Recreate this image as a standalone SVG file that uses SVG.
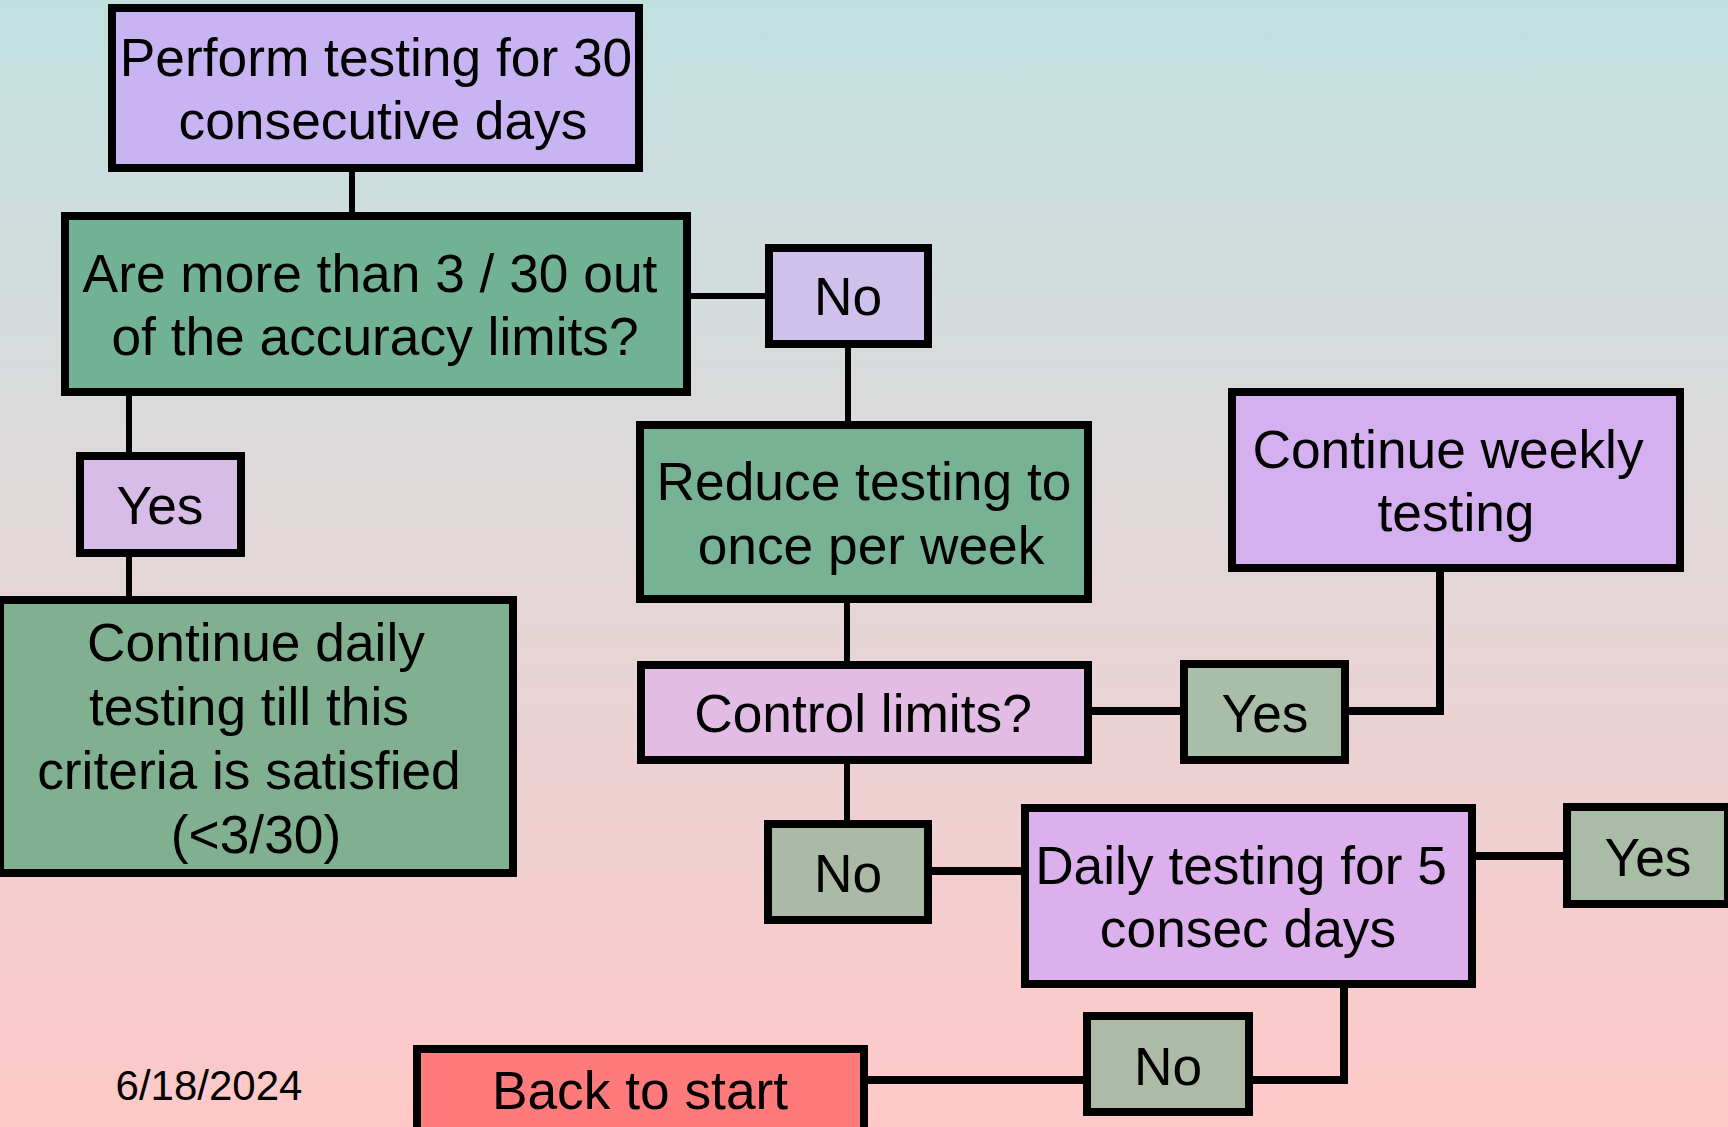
<svg xmlns="http://www.w3.org/2000/svg" width="1728" height="1127" viewBox="0 0 1728 1127">
<defs>
<linearGradient id="bg" x1="0" y1="0" x2="0" y2="1">
<stop offset="0" stop-color="#C0E0E0"/>
<stop offset="0.38" stop-color="#DCDADB"/>
<stop offset="1" stop-color="#FFC8C8"/>
</linearGradient>
</defs>
<style>
.box{stroke:#000;stroke-width:8}
.t{font-family:"Liberation Sans",Arial,sans-serif;font-size:53.3px;fill:#000;text-anchor:middle}
.c{fill:none;stroke:#000;stroke-width:6}
.c8{fill:none;stroke:#000;stroke-width:8}
</style>
<rect x="0" y="0" width="1728" height="1127" fill="url(#bg)"/>
<g id="connectors">
<line class="c" x1="352" y1="170" x2="352" y2="214"/>
<line class="c" x1="689" y1="296" x2="767" y2="296"/>
<line class="c" x1="848" y1="346" x2="848" y2="423"/>
<line class="c" x1="129" y1="394" x2="129" y2="454"/>
<line class="c" x1="129" y1="555" x2="129" y2="598"/>
<line class="c" x1="847" y1="601" x2="847" y2="663"/>
<line class="c8" x1="1090" y1="711" x2="1182" y2="711"/>
<polyline class="c8" points="1347,711 1440,711 1440,570"/>
<line class="c" x1="847" y1="762" x2="847" y2="822"/>
<line class="c8" x1="930" y1="871" x2="1023" y2="871"/>
<line class="c8" x1="1474" y1="856" x2="1565" y2="856"/>
<polyline class="c8" points="1344,986 1344,1080 1251,1080"/>
<line class="c8" x1="1085" y1="1080" x2="866" y2="1080"/>
</g>
<g id="perform">
<rect class="box" x="112" y="8" width="527" height="160" fill="#C8B4F2"/>
<text class="t" x="376" y="76">Perform testing for 30</text>
<text class="t" x="383" y="139">consecutive days</text>
</g>
<g id="accuracy">
<rect class="box" x="65" y="216" width="622" height="176" fill="#72B294"/>
<text class="t" x="370" y="292">Are more than 3 / 30 out</text>
<text class="t" x="375" y="355">of the accuracy limits?</text>
</g>
<g id="no-top">
<rect class="box" x="769" y="248" width="159" height="96" fill="#D0C0EC"/>
<text class="t" x="848" y="315">No</text>
</g>
<g id="reduce">
<rect class="box" x="640" y="425" width="448" height="174" fill="#78B294"/>
<text class="t" x="864" y="500">Reduce testing to</text>
<text class="t" x="871" y="564">once per week</text>
</g>
<g id="weekly">
<rect class="box" x="1232" y="392" width="448" height="176" fill="#D4B0F0"/>
<text class="t" x="1448" y="468">Continue weekly</text>
<text class="t" x="1456" y="531">testing</text>
</g>
<g id="yes-left">
<rect class="box" x="80" y="456" width="161" height="97" fill="#D8BCE8"/>
<text class="t" x="160" y="524">Yes</text>
</g>
<g id="daily-continue">
<rect class="box" x="0" y="600" width="513" height="273" fill="#80B090"/>
<text class="t" x="256" y="661">Continue daily</text>
<text class="t" x="249" y="725">testing till this</text>
<text class="t" x="249" y="789">criteria is satisfied</text>
<text class="t" x="256" y="853">(&lt;3/30)</text>
</g>
<g id="control">
<rect class="box" x="641" y="665" width="447" height="95" fill="#E2BCE4"/>
<text class="t" x="863" y="732">Control limits?</text>
</g>
<g id="yes-control">
<rect class="box" x="1184" y="664" width="161" height="96" fill="#A8BEA8"/>
<text class="t" x="1265" y="732">Yes</text>
</g>
<g id="no-mid">
<rect class="box" x="768" y="824" width="160" height="96" fill="#AABAA6"/>
<text class="t" x="848" y="892">No</text>
</g>
<g id="daily5">
<rect class="box" x="1025" y="808" width="447" height="176" fill="#DCB0EC"/>
<text class="t" x="1241" y="884">Daily testing for 5</text>
<text class="t" x="1248" y="947">consec days</text>
</g>
<g id="yes-right">
<rect class="box" x="1567" y="807" width="161" height="97" fill="#A8BCA6"/>
<text class="t" x="1648" y="876">Yes</text>
</g>
<g id="no-bottom">
<rect class="box" x="1087" y="1016" width="162" height="96" fill="#ACBAA6"/>
<text class="t" x="1168" y="1085">No</text>
</g>
<g id="back">
<rect class="box" x="417" y="1049" width="447" height="100" fill="#FF7A7A"/>
<text class="t" x="640" y="1109">Back to start</text>
</g>
<text x="209" y="1100" font-family="Liberation Sans,Arial,sans-serif" font-size="42" text-anchor="middle" fill="#000">6/18/2024</text>
</svg>
